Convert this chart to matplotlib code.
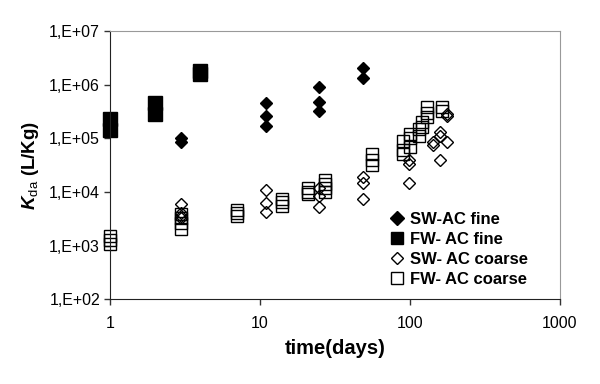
import math
import matplotlib
matplotlib.use('Agg')
import matplotlib.pyplot as plt
from matplotlib.ticker import FixedLocator, FuncFormatter, NullLocator

plt.rcParams['font.family'] = ['Liberation Sans', 'DejaVu Sans']
plt.rcParams['mathtext.fontset'] = 'custom'
plt.rcParams['mathtext.rm'] = 'Liberation Sans'
plt.rcParams['mathtext.bf'] = 'Liberation Sans:bold'
plt.rcParams['mathtext.bfit'] = 'Liberation Sans:bold:italic'

# SW-AC fine (filled diamonds)
sw_fine_t = [3, 3, 11, 11, 11, 25, 25, 25, 49, 49]
sw_fine_k = [8.5e4, 1.0e5, 4.5e5, 2.6e5, 1.7e5, 9.0e5, 4.7e5, 3.2e5, 2.05e6, 1.35e6]

# FW-AC fine (filled squares)
fw_fine_t = [1, 1, 2, 2, 4, 4]
fw_fine_k = [2.3e5, 1.45e5, 4.5e5, 2.8e5, 1.8e6, 1.6e6]

# SW-AC coarse (open diamonds)
sw_coarse_t = [3, 3, 3, 3, 11, 11, 11, 25, 25, 25, 49, 49, 49,
               99, 99, 99, 142, 142, 158, 158, 158, 178, 178, 178]
sw_coarse_k = [6.0e3, 4.0e3, 3.5e3, 3.2e3, 1.1e4, 6.2e3, 4.2e3, 1.2e4, 8.5e3, 5.2e3,
               1.9e4, 1.45e4, 7.4e3, 3.9e4, 3.3e4, 1.45e4, 8.5e4, 7.5e4,
               1.3e5, 1.1e5, 4.0e4, 8.5e4, 2.8e5, 2.6e5]

# FW-AC coarse (open squares)
fw_coarse_t = [1, 1, 1, 3, 3, 3, 3, 7, 7, 7, 14, 14, 14, 21, 21, 21, 27, 27, 27, 27,
               56, 56, 56, 90, 90, 90, 100, 100, 100, 115, 115, 120, 120,
               130, 130, 130, 163, 163]
fw_coarse_k = [1.5e3, 1.25e3, 1.05e3, 3.8e3, 3.2e3, 2.6e3, 2.0e3, 4.6e3, 4.0e3, 3.5e3,
               7.5e3, 6.5e3, 5.5e3, 1.2e4, 1.0e4, 9.0e3, 1.7e4, 1.4e4, 1.2e4, 1.0e4,
               5.0e4, 4.0e4, 3.2e4, 9.0e4, 6.0e4, 5.0e4, 1.2e5, 1.0e5, 7.0e4,
               1.5e5, 1.1e5, 2.0e5, 1.6e5, 3.8e5, 3.0e5, 2.5e5, 3.8e5, 3.3e5]

x_ticks = [1, 10, 100, 1000]
y_ticks = [1e2, 1e3, 1e4, 1e5, 1e6, 1e7]

fig = plt.figure(figsize=(6, 3.84), dpi=100)
ax = fig.add_axes([0.183, 0.221, 0.75, 0.698])

ax.plot(sw_fine_t, sw_fine_k, 'D', color='black', markersize=6.6, linestyle='none',
        label='SW-AC fine', clip_on=False)
ax.plot(fw_fine_t, fw_fine_k, 's', color='black', markersize=9.4, linestyle='none',
        label='FW- AC fine', clip_on=False)
ax.plot(sw_coarse_t, sw_coarse_k, 'D', markerfacecolor='none', markeredgecolor='black',
        markeredgewidth=1.0, markersize=6.4, linestyle='none', label='SW- AC coarse',
        clip_on=False)
ax.plot(fw_coarse_t, fw_coarse_k, 's', markerfacecolor='none', markeredgecolor='black',
        markeredgewidth=1.0, markersize=8.6, linestyle='none', label='FW- AC coarse',
        clip_on=False)

ax.set_xscale('log')
ax.set_yscale('log')
ax.set_xlim(1, 1000)
ax.set_ylim(1e2, 1e7)
ax.xaxis.set_major_locator(FixedLocator(x_ticks))
ax.xaxis.set_minor_locator(NullLocator())
ax.yaxis.set_major_locator(FixedLocator(y_ticks))
ax.yaxis.set_minor_locator(NullLocator())
ax.xaxis.set_major_formatter(FuncFormatter(lambda v, p: '%d' % v))
ax.yaxis.set_major_formatter(FuncFormatter(lambda v, p: '1,E+%02d' % round(math.log10(v))))
ax.tick_params(axis='both', labelsize=11.5, direction='out', length=4, width=1, color='#333333', pad=3)
ax.tick_params(axis='x', pad=8)

for s in ['left', 'bottom']:
    ax.spines[s].set_color('#222222')
for s in ['top', 'right']:
    ax.spines[s].set_color('#999999')

ax.set_xlabel('time(days)', fontsize=14.5, fontweight='bold', labelpad=6)
ax.set_ylabel(r'$\mathbfit{K}_{\mathrm{da}}$ (L/Kg)', fontsize=13.5, fontweight='bold', labelpad=6)

leg = ax.legend(loc='upper left', bbox_to_anchor=(0.62, 0.325), frameon=False,
                prop={'weight': 'bold', 'size': 12}, handlelength=1.0, handletextpad=0.3,
                labelspacing=0.3, borderaxespad=0, borderpad=0)
for h, ms in zip(leg.legend_handles, [7.0, 8.6, 6.6, 8.6]):
    h.set_markersize(ms)

fig.savefig('out.png', dpi=100)
